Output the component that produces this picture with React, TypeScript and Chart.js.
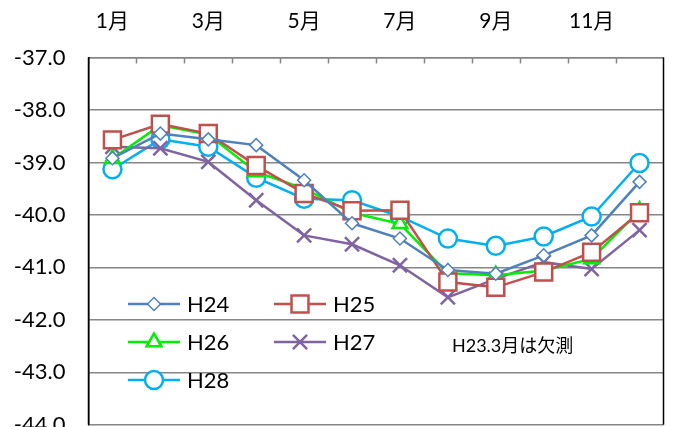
import React, { useEffect, useRef } from 'react';
import { Chart, registerables } from 'chart.js';
import { drawPoint } from 'chart.js/helpers';

Chart.register(...registerables);

const months = ['1月', '2月', '3月', '4月', '5月', '6月', '7月', '8月', '9月', '10月', '11月', '12月'];
const h24 = [-38.92, -38.45, -38.56, -38.67, -39.34, -40.16, -40.45, -41.05, -41.12, -40.77, -40.39, -39.37];
const h25 = [-38.57, -38.27, -38.45, -39.06, -39.59, -39.92, -39.91, -41.28, -41.38, -41.09, -40.71, -39.96];
const h26 = [-38.93, -38.29, -38.47, -39.18, -39.5, -39.96, -40.17, -41.11, -41.15, -41.06, -40.84, -39.92];
const h27 = [-38.7, -38.73, -38.99, -39.72, -40.39, -40.56, -40.96, -41.57, -41.22, -40.9, -41.03, -40.29];
const h28 = [-39.13, -38.56, -38.7, -39.29, -39.69, -39.72, -40.03, -40.45, -40.59, -40.41, -40.03, -39.01];
const seriesNames = ['H24', 'H25', 'H26', 'H27', 'H28'];
const note = 'H23.3月は欠測';

const FONT = '"Lato", "Noto Sans CJK JP", sans-serif';

const legendPlugin = {
  id: 'customLegend',
  afterDatasetsDraw(chart: any) {
    const ctx = chart.ctx;
    const area = chart.chartArea;
    const xs = chart.scales.x;
    ctx.save();
    ctx.strokeStyle = '#868686';
    ctx.lineWidth = 1.5;
    for (let i = 1; i < months.length; i++) {
      const px = Math.round((xs.getPixelForValue(i - 1) + xs.getPixelForValue(i)) / 2) + 0.5;
      ctx.beginPath();
      ctx.moveTo(px, area.top);
      ctx.lineTo(px, area.top + 6);
      ctx.stroke();
    }
    ctx.strokeStyle = '#000';
    ctx.lineWidth = 1.5;
    ctx.beginPath();
    ctx.moveTo(area.right, area.top);
    ctx.lineTo(area.right, area.bottom);
    ctx.stroke();
    ctx.beginPath();
    ctx.moveTo(area.left, area.top);
    ctx.lineTo(area.left, area.bottom);
    ctx.stroke();

    const pos = [
      [128, 304],
      [274, 304],
      [128, 342],
      [274, 342],
      [128, 380],
    ];
    chart.data.datasets.forEach((ds: any, i: number) => {
      const [x, y] = pos[i];
      ctx.strokeStyle = ds.borderColor;
      ctx.lineWidth = ds.borderWidth;
      ctx.beginPath();
      ctx.moveTo(x, y);
      ctx.lineTo(x + 52, y);
      ctx.stroke();
      ctx.fillStyle = '#fff';
      ctx.strokeStyle = ds.pointBorderColor;
      ctx.lineWidth = ds.pointBorderWidth;
      drawPoint(ctx, { pointStyle: ds.pointStyle, radius: ds.pointRadius, rotation: 0, borderWidth: ds.pointBorderWidth }, x + 26, y);
      ctx.fillStyle = '#000';
      ctx.font = '22px ' + FONT;
      ctx.textBaseline = 'middle';
      ctx.textAlign = 'left';
      ctx.fillText(ds.label, x + 59, y + 1);
    });
    ctx.font = '18px ' + FONT;
    ctx.fillStyle = '#000';
    ctx.textBaseline = 'middle';
    ctx.fillText(note, 452, 346);
    ctx.restore();
  },
};

export default function App() {
  const ref = useRef<HTMLCanvasElement | null>(null);
  useEffect(() => {
    document.body.style.margin = '0';
    document.body.style.overflow = 'hidden';
    const mk = (label: string, data: number[], color: string, style: string, radius: number, pbw: number) => ({
      label,
      data,
      borderColor: color,
      backgroundColor: '#fff',
      borderWidth: 2.5,
      pointStyle: style,
      pointRadius: radius,
      pointBorderColor: color,
      pointBackgroundColor: '#fff',
      pointBorderWidth: pbw,
      tension: 0,
    });
    const chart = new Chart(ref.current as HTMLCanvasElement, {
      type: 'line',
      data: {
        labels: months,
        datasets: [
          mk(seriesNames[0], h24, '#4F81BD', 'rectRot', 6.5, 1.5),
          mk(seriesNames[1], h25, '#C0504D', 'rect', 12, 2.5),
          mk(seriesNames[2], h26, '#00EE00', 'triangle', 8.5, 2.5),
          mk(seriesNames[3], h27, '#8064A2', 'crossRot', 10, 2.5),
          mk(seriesNames[4], h28, '#00B0F0', 'circle', 9, 2.5),
        ] as any,
      },
      options: {
        animation: false,
        responsive: false,
        devicePixelRatio: 1,
        layout: { padding: { left: 0, right: 5.5, top: 0, bottom: 21 } },
        plugins: { legend: { display: false }, tooltip: { enabled: false } },
        scales: {
          x: {
            position: 'top',
            offset: true,
            grid: { display: false, drawTicks: false },
            border: { display: true, color: '#868686', width: 1.5 },
            ticks: {
              autoSkip: false,
              maxRotation: 0,
              padding: 24,
              color: '#000',
              font: { size: 21, family: FONT },
              callback: (_v: any, i: number) => (i % 2 === 0 ? months[i] : ''),
            },
            afterFit: (s: any) => {
              s.height = 57.5;
            },
          },
          y: {
            min: -44,
            max: -37,
            ticks: {
              stepSize: 1,
              padding: 23,
              color: '#000',
              font: { size: 22, family: FONT },
              callback: (v: any) => Number(v).toFixed(1),
            },
            grid: { color: '#868686', lineWidth: 1.5, drawTicks: false },
            border: { display: true, color: '#000', width: 1.5 },
            afterFit: (s: any) => {
              s.width = 88.5;
            },
          },
        },
      } as any,
      plugins: [legendPlugin],
    });
    return () => chart.destroy();
  }, []);
  return (
    <div style={{ position: 'fixed', left: 0, top: 0, width: 678, height: 427, overflow: 'hidden', background: '#fff' }}>
      <canvas ref={ref} width={678} height={461} style={{ width: 678, height: 461, display: 'block' }} />
    </div>
  );
}
